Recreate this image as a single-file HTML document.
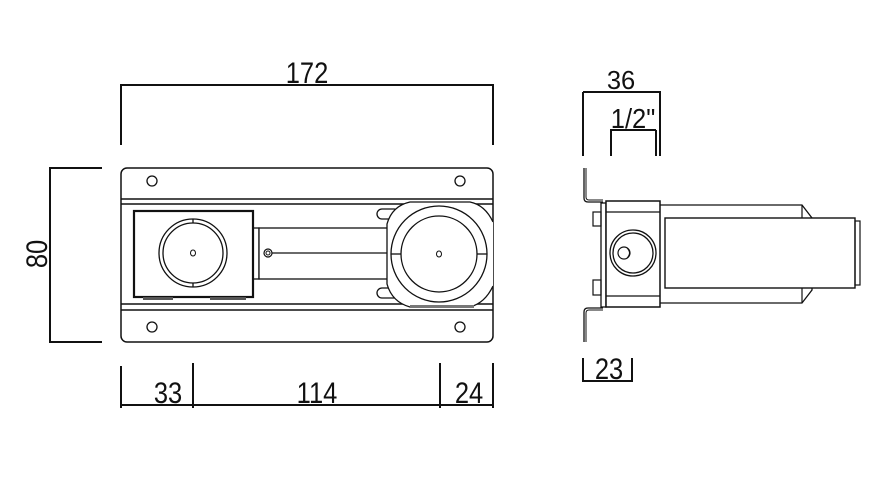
<!DOCTYPE html>
<html><head><meta charset="utf-8"><style>
html,body{margin:0;padding:0;background:#fff;width:891px;height:495px;overflow:hidden}
svg{display:block}
text{font-family:"Liberation Sans",sans-serif;fill:#111}
</style></head><body>
<svg width="891" height="495" viewBox="0 0 891 495" xmlns="http://www.w3.org/2000/svg">
<g stroke="#111" fill="none">
<line x1="120" y1="85" x2="494" y2="85" stroke-width="2"/>
<line x1="121" y1="85" x2="121" y2="145" stroke-width="2"/>
<line x1="493" y1="85" x2="493" y2="145" stroke-width="2"/>
<line x1="50" y1="167" x2="50" y2="342" stroke-width="2"/>
<line x1="49" y1="168" x2="102" y2="168" stroke-width="2"/>
<line x1="49" y1="342" x2="102" y2="342" stroke-width="2"/>
<line x1="121" y1="405" x2="493" y2="405" stroke-width="2"/>
<line x1="121" y1="366" x2="121" y2="408" stroke-width="2"/>
<line x1="193" y1="363" x2="193" y2="408" stroke-width="2"/>
<line x1="440" y1="363" x2="440" y2="408" stroke-width="2"/>
<line x1="493" y1="363" x2="493" y2="408" stroke-width="2"/>
<line x1="583" y1="92" x2="661" y2="92" stroke-width="2"/>
<line x1="583" y1="92" x2="583" y2="156" stroke-width="2"/>
<line x1="660" y1="92" x2="660" y2="156" stroke-width="2"/>
<line x1="610" y1="130" x2="656" y2="130" stroke-width="2"/>
<line x1="611" y1="130" x2="611" y2="156" stroke-width="2"/>
<line x1="656" y1="130" x2="656" y2="156" stroke-width="2"/>
<line x1="583" y1="358" x2="583" y2="382" stroke-width="2"/>
<line x1="632" y1="358" x2="632" y2="382" stroke-width="2"/>
<line x1="583" y1="381" x2="632" y2="381" stroke-width="2"/>

<rect x="121" y="168" width="372" height="174" rx="6" stroke-width="1.5"/>
<line x1="121" y1="199" x2="493" y2="199" stroke-width="1.5"/>
<line x1="121" y1="204" x2="493" y2="204" stroke-width="1.5"/>
<line x1="121" y1="304" x2="493" y2="304" stroke-width="1.5"/>
<line x1="121" y1="310" x2="493" y2="310" stroke-width="1.5"/>
<circle cx="152" cy="181" r="5" stroke-width="1.3"/>
<circle cx="460" cy="181" r="5" stroke-width="1.3"/>
<circle cx="152" cy="327" r="5" stroke-width="1.3"/>
<circle cx="460" cy="327" r="5" stroke-width="1.3"/>
<rect x="134" y="211" width="119" height="86" fill="#fff" stroke-width="2.2"/>
<rect x="143" y="297" width="30" height="3" fill="#555" stroke="none"/>
<rect x="210" y="297" width="36" height="3" fill="#555" stroke="none"/>
<circle cx="193" cy="253" r="34" stroke-width="1.3"/>
<circle cx="193" cy="253" r="30" stroke-width="1.3"/>
<line x1="193" y1="219" x2="193" y2="223" stroke-width="1.3"/>
<line x1="193" y1="283" x2="193" y2="287" stroke-width="1.3"/>
<ellipse cx="193" cy="253" rx="2.5" ry="3" stroke-width="1"/>
<rect x="253" y="228" width="6" height="51" stroke-width="1.3"/>
<rect x="259" y="228" width="132" height="51" fill="#fff" stroke-width="1.3"/>
<line x1="272" y1="253" x2="391" y2="253" stroke-width="1.3"/>
<circle cx="268" cy="253" r="4" stroke-width="1.2"/>
<circle cx="268" cy="253" r="2" stroke-width="1"/>
<rect x="377" y="209" width="22" height="10" rx="5" stroke-width="1.3"/>
<rect x="377" y="288" width="22" height="10" rx="5" stroke-width="1.3"/>
<path d="M493 222 Q485 205 470 202 L410 202 Q392 206 387 224 L387 284 Q392 302 410 307 L470 307 Q485 303 493 286" fill="#fff" stroke-width="1.3"/>
<rect x="410" y="305" width="64" height="3" fill="#777" stroke="none"/>
<circle cx="439" cy="254" r="48" stroke-width="1.3"/>
<circle cx="439" cy="254" r="38" stroke-width="1.3"/>
<line x1="391" y1="254" x2="401" y2="254" stroke-width="1.3"/>
<line x1="477" y1="254" x2="487" y2="254" stroke-width="1.3"/>
<ellipse cx="439" cy="254" rx="2.5" ry="3" stroke-width="1"/>

<path d="M584 168 L584 198 Q584 202 588 202 L603 202" stroke-width="1.3"/>
<path d="M586 168 L586 197 Q586 200 589 200 L603 200" stroke-width="1"/>
<path d="M584 342 L584 312 Q584 308 588 308 L603 308" stroke-width="1.3"/>
<path d="M586 342 L586 313 Q586 310 589 310 L603 310" stroke-width="1"/>
<rect x="601" y="203" width="5" height="104" stroke-width="1.3"/>
<rect x="593" y="212" width="8" height="14" stroke-width="1.2"/>
<rect x="593" y="280" width="8" height="15" stroke-width="1.2"/>
<rect x="606" y="201" width="54" height="106" fill="#fff" stroke-width="1.5"/>
<line x1="606" y1="212" x2="660" y2="212" stroke-width="1.3"/>
<line x1="606" y1="296" x2="660" y2="296" stroke-width="1.3"/>
<circle cx="633" cy="253" r="23" stroke-width="1.3"/>
<circle cx="633" cy="253" r="20" stroke-width="1.3"/>
<circle cx="624" cy="253" r="6" stroke-width="1.2"/>
<path d="M627 248 Q632 253 627 258" stroke-width="1"/>
<path d="M660 205 L802 205 L812 218 L812 290 L802 303 L660 303" stroke-width="1.3"/>
<line x1="802" y1="205" x2="802" y2="303" stroke-width="1.2"/>
<rect x="665" y="218" width="190" height="70" fill="#fff" stroke-width="1.4"/>
<rect x="855" y="221" width="5" height="64" stroke-width="1.2"/>
</g>
<g font-size="30" text-anchor="middle">
<text transform="translate(307,83) scale(0.85,1)">172</text>
<text transform="translate(621,89) scale(0.85,0.85)">36</text>
<text transform="translate(633,128) scale(0.85,0.92)">1/2"</text>
<text transform="translate(168,403) scale(0.85,1)">33</text>
<text transform="translate(317,403) scale(0.85,1)">114</text>
<text transform="translate(469,403) scale(0.85,1)">24</text>
<text transform="translate(609,379) scale(0.85,1)">23</text>
<text transform="translate(47,254) rotate(-90) scale(0.85,1)">80</text>
</g>
</svg>
</body></html>
